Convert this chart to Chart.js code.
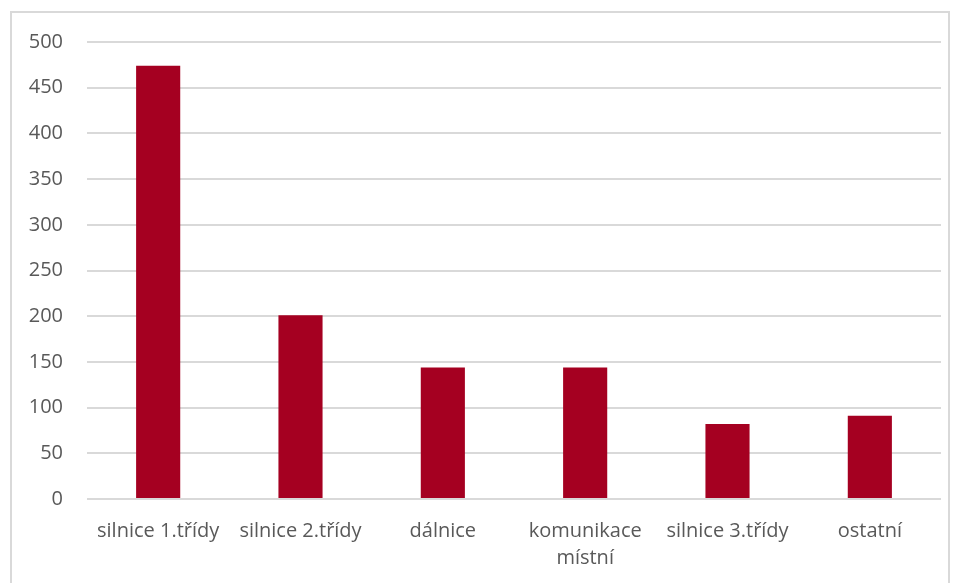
<!DOCTYPE html>
<html>
<head>
<meta charset="utf-8">
<script src="https://cdn.jsdelivr.net/npm/chart.js@4.4.0/dist/chart.umd.min.js"></script>
<style>
  body { margin: 0; background: #fff; }
  #wrap { position: relative; width: 957px; height: 583px; }
  #frame { position: absolute; left: 10px; top: 11px; width: 940px; height: 580px; border: 2px solid #d9d9d9; box-sizing: border-box; }
  canvas { position: absolute; left: 0; top: 0; }
</style>
</head>
<body>
<div id="wrap">
  <div id="frame"></div>
  <canvas id="myChart" width="957" height="583"></canvas>
</div>
<script>
const categories = ['silnice 1.třídy', 'silnice 2.třídy', 'dálnice', ['komunikace', 'místní'], 'silnice 3.třídy', 'ostatní'];
const values = [474, 201, 144, 144, 82, 91];
const yTicks = [0, 50, 100, 150, 200, 250, 300, 350, 400, 450, 500];

const ctx = document.getElementById('myChart').getContext('2d');
new Chart(ctx, {
    type: 'bar',
    data: {
        labels: categories,
        datasets: [
            {
                label: 'počet',
                data: values,
                backgroundColor: '#a50021',
                barPercentage: 0.62,
                categoryPercentage: 0.5
            }
        ]
    },
    options: {
        responsive: false,
        animation: false,
        layout: { padding: { top: 42, right: 16, left: 0, bottom: 0 } },
        plugins: {
            legend: { display: false },
            tooltip: { enabled: false }
        },
        scales: {
            x: {
                grid: { display: false },
                border: { display: false },
                ticks: {
                    color: '#595959',
                    font: { family: 'Open Sans', size: 20, lineHeight: 1.35 },
                    maxRotation: 0,
                    autoSkip: false,
                    padding: 11
                },
                afterFit: (scale) => { scale.height = 84; }
            },
            y: {
                min: 0,
                max: 500,
                afterBuildTicks: (scale) => { scale.ticks = yTicks.map(v => ({ value: v })); },
                grid: { color: '#d9d9d9', lineWidth: 2, drawTicks: false },
                border: { display: false },
                ticks: {
                    color: '#595959',
                    font: { family: 'Open Sans', size: 20 },
                    padding: 24
                },
                afterFit: (scale) => { scale.width = 87; }
            }
        }
    }
});
</script>
</body>
</html>
